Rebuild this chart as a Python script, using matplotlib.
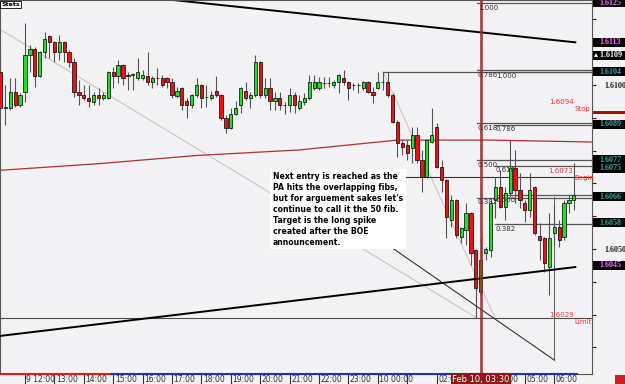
import numpy as np
import matplotlib
matplotlib.use("Agg")
from matplotlib import pyplot as plt
from matplotlib.patches import Rectangle
import matplotlib.transforms as mtransforms

# 10 minute candles, GBP/USD, 9 Feb 11:10 -> 10 Feb 06:40
opens = [1.61040, 1.60930, 1.60930, 1.60979, 1.60939, 1.60979, 1.61091, 1.61110, 1.61027, 1.61101,
         1.61149, 1.61131, 1.61101, 1.61131, 1.61101, 1.61070, 1.60979, 1.60970, 1.60960, 1.60948,
         1.60970, 1.60960, 1.60960, 1.61040, 1.61027, 1.61061, 1.61030, 1.61030, 1.61021, 1.61021,
         1.61027, 1.61009, 1.61021, 1.61021, 1.61021, 1.61009, 1.60966, 1.60991, 1.60951, 1.60939,
         1.60970, 1.61000, 1.60963, 1.60960, 1.60982, 1.60970, 1.60900, 1.60869, 1.60912, 1.60939,
         1.60982, 1.60960, 1.60970, 1.61070, 1.60970, 1.60991, 1.60951, 1.60960, 1.60939, 1.60939,
         1.60970, 1.60930, 1.60948, 1.60960, 1.60991, 1.60991, 1.61006, 1.61006, 1.61000, 1.61009,
         1.61021, 1.61009, 1.61000, 1.61000, 1.60991, 1.61009, 1.60979, 1.60991, 1.61009, 1.61009,
         1.60970, 1.60887, 1.60823, 1.60817, 1.60808, 1.60848, 1.60771, 1.60720, 1.60826, 1.60872,
         1.60750, 1.60710, 1.60588, 1.60649, 1.60537, 1.60558, 1.60610, 1.60497, 1.60369, 1.60488,
         1.60497, 1.60649, 1.60689, 1.60628, 1.60671, 1.60747, 1.60680, 1.60640, 1.60619, 1.60689,
         1.60540, 1.60534, 1.60445, 1.60549, 1.60567, 1.60537, 1.60640, 1.60649]
highs = [1.61091, 1.61000, 1.61021, 1.61021, 1.60976, 1.61189, 1.61122, 1.61116, 1.61104, 1.61162,
         1.61152, 1.61134, 1.61152, 1.61134, 1.61107, 1.61082, 1.61015, 1.61000, 1.61000, 1.60979,
         1.60991, 1.60979, 1.61043, 1.61055, 1.61076, 1.61064, 1.61040, 1.61035, 1.61082, 1.61046,
         1.61101, 1.61027, 1.61052, 1.61030, 1.61024, 1.61021, 1.60994, 1.60994, 1.60960, 1.60973,
         1.61021, 1.61003, 1.61000, 1.60982, 1.61027, 1.60973, 1.60909, 1.60930, 1.60951, 1.60994,
         1.61009, 1.60979, 1.61091, 1.61073, 1.61021, 1.61021, 1.60979, 1.60979, 1.60948, 1.60991,
         1.60979, 1.60970, 1.60976, 1.61030, 1.61030, 1.61024, 1.61024, 1.61024, 1.61015, 1.61033,
         1.61046, 1.61012, 1.61006, 1.61006, 1.61012, 1.61012, 1.60994, 1.61040, 1.61040, 1.61040,
         1.60976, 1.60893, 1.60832, 1.60832, 1.60872, 1.60872, 1.60802, 1.60835, 1.60930, 1.60884,
         1.60771, 1.60713, 1.60665, 1.60652, 1.60567, 1.60640, 1.60613, 1.60500, 1.60537, 1.60506,
         1.60649, 1.60720, 1.60741, 1.60689, 1.60832, 1.60802, 1.60732, 1.60649, 1.60732, 1.60692,
         1.60579, 1.60537, 1.60610, 1.60634, 1.60588, 1.60649, 1.60665, 1.60762]
lows = [1.60909, 1.60878, 1.60924, 1.60933, 1.60933, 1.60948, 1.61040, 1.60994, 1.61024, 1.61082,
        1.61082, 1.61070, 1.61076, 1.61070, 1.61055, 1.60963, 1.60939, 1.60954, 1.60933, 1.60939,
        1.60939, 1.60954, 1.60957, 1.60991, 1.61006, 1.61000, 1.60985, 1.60985, 1.61015, 1.61015,
        1.61000, 1.60991, 1.61000, 1.60994, 1.60991, 1.60960, 1.60960, 1.60924, 1.60900, 1.60930,
        1.60963, 1.60930, 1.60933, 1.60954, 1.60963, 1.60893, 1.60854, 1.60866, 1.60909, 1.60915,
        1.60954, 1.60930, 1.60963, 1.60960, 1.60960, 1.60924, 1.60924, 1.60924, 1.60912, 1.60918,
        1.60915, 1.60924, 1.60939, 1.60954, 1.60985, 1.60985, 1.60991, 1.60994, 1.60991, 1.60976,
        1.61000, 1.60954, 1.60985, 1.60976, 1.60985, 1.60976, 1.60945, 1.60988, 1.60985, 1.60963,
        1.60884, 1.60780, 1.60787, 1.60771, 1.60762, 1.60762, 1.60674, 1.60717, 1.60823, 1.60747,
        1.60674, 1.60534, 1.60567, 1.60534, 1.60518, 1.60512, 1.60451, 1.60345, 1.60360, 1.60466,
        1.60476, 1.60595, 1.60625, 1.60588, 1.60659, 1.60640, 1.60625, 1.60582, 1.60598, 1.60543,
        1.60466, 1.60430, 1.60360, 1.60512, 1.60506, 1.60527, 1.60610, 1.60619]
closes = [1.60930, 1.60933, 1.60979, 1.60939, 1.60970, 1.61091, 1.61110, 1.61027, 1.61101, 1.61140,
          1.61131, 1.61101, 1.61131, 1.61101, 1.61070, 1.60979, 1.60970, 1.60960, 1.60951, 1.60970,
          1.60960, 1.60970, 1.61040, 1.61027, 1.61061, 1.61021, 1.61028, 1.61032, 1.61040, 1.61030,
          1.61009, 1.61021, 1.61020, 1.61000, 1.61009, 1.60970, 1.60982, 1.60939, 1.60939, 1.60970,
          1.61000, 1.60960, 1.60962, 1.60970, 1.60970, 1.60900, 1.60869, 1.60912, 1.60930, 1.60991,
          1.60960, 1.60970, 1.61070, 1.60970, 1.60991, 1.60951, 1.60960, 1.60939, 1.60940, 1.60970,
          1.60939, 1.60951, 1.60960, 1.61009, 1.61009, 1.61009, 1.61005, 1.61007, 1.61009, 1.61030,
          1.61009, 1.60991, 1.61001, 1.60999, 1.61009, 1.60979, 1.60970, 1.61009, 1.61008, 1.60970,
          1.60887, 1.60823, 1.60811, 1.60793, 1.60848, 1.60771, 1.60720, 1.60832, 1.60848, 1.60750,
          1.60710, 1.60598, 1.60649, 1.60543, 1.60564, 1.60610, 1.60488, 1.60381, 1.60466, 1.60500,
          1.60640, 1.60689, 1.60628, 1.60671, 1.60747, 1.60680, 1.60649, 1.60619, 1.60680, 1.60549,
          1.60527, 1.60457, 1.60534, 1.60567, 1.60527, 1.60640, 1.60649, 1.60664]

# moving average, read at a few candles
ma_idx = [0, 20, 40, 61, 81, 100, 121]
ma_val = [1.60740, 1.60760, 1.60785, 1.60802, 1.60832, 1.60832, 1.60826]

hour_labels = ["9 12:00", "13:00", "14:00", "15:00", "16:00", "17:00", "18:00", "19:00",
               "20:00", "21:00", "22:00", "23:00", "10 00:00", "", "02:00", "", "04:00",
               "05:00", "06:00"]

fib_ratios = [1.0, 0.786, 0.618, 0.5, 0.382]
fib_a = (1.6125, 1.6029)   # high, low
fib_b = (1.6104, 1.6029)

# right-hand price boxes: (label, centre price, text colour)
price_boxes = [("1.6125", 1.6125, "#ff66ff"), ("1.6113", 1.6113, "#ff66ff"),
               ("\u25b4 1.6109", 1.6109, "white"), ("1.6104", 1.6104, "#3aa6a6"),
               ("1.6089", 1.6088, "#3aa6a6"), ("1.6077\n1.6075", 1.6076, "#3aa6a6"),
               ("1.6066", 1.6066, "#3aa6a6"), ("1.6058", 1.6058, "#3aa6a6"),
               ("1.6045", 1.6045, "#ff66ff")]

fig = plt.figure(figsize=(6.25, 3.84), dpi=100)
fig.patch.set_facecolor("#f3f2f4")
ax = fig.add_axes([0, 10 / 384, 592 / 625, 374 / 384])
ax.set_facecolor("#f3f2f4")
ax.set_xlim(-0.1, 120.7)
ax.set_ylim(1.60119, 1.61259)

n = len(opens)
idx = np.arange(n)

# trend lines and helper lines
ax.plot([34.6, 117.3], [1.6126, 1.6113], color="black", lw=1.4, zorder=2)
ax.plot([-0.1, 117.3], [1.60235, 1.60445], color="black", lw=1.4, zorder=4)
ax.plot([-9, 97.2], [fib_a[0], fib_a[1]], color="#c8c8c8", lw=0.8, zorder=1)
ax.plot([78.1, 100.9], [fib_b[0], fib_b[1]], color="#c8c8c8", lw=0.8, zorder=1)
ax.plot(ma_idx, ma_val, color="#b03030", lw=0.9, zorder=1)

# limit / begin lines
ax.axhline(1.6029, color="#44524a", lw=0.8, zorder=1)
ax.plot([81.5, 120.7], [1.6072, 1.6072], color="#333333", lw=0.8, zorder=1)
ax.plot([78.1, 120.7], [1.6104, 1.6104], color="#555555", lw=0.9, zorder=1)

# fibonacci levels
for (hi, lo), x0 in [(fib_a, 97.2), (fib_b, 100.9)]:
    for r in fib_ratios:
        lvl = lo + (hi - lo) * r
        ax.plot([x0, 120.7], [lvl, lvl], color="#555555", lw=0.9, zorder=1)
        ax.text(x0 + 0.2, lvl - 0.00005, "%.3f" % r, fontsize=5, color="#333333",
                va="top", ha="left", zorder=6)

# candles
for i in idx:
    up = closes[i] >= opens[i]
    ax.vlines(i, lows[i], highs[i], color="#555555", lw=0.8, zorder=3)
    bottom = min(opens[i], closes[i])
    h = max(abs(closes[i] - opens[i]), 0.000012)
    ax.add_patch(Rectangle((i - 0.33, bottom), 0.66, h, facecolor="#22dd22" if up else "#ee1111",
                           edgecolor="black", lw=0.5, zorder=3))

# vertical markers
ax.axvline(98, color="#9a2a2a", lw=2, alpha=0.85, zorder=5)
ax.plot([97.0, 97.0], [1.6029, 1.60451], color="#555555", lw=0.8, zorder=2)
ax.plot([112.96, 112.96], [1.60659, 1.60162], color="#666666", lw=0.8, zorder=2)
ax.plot([75.8, 112.96], [1.60546, 1.60162], color="#333333", lw=0.8, zorder=2)

# red labels
for price, word, y in [("1.6094", "Stop", 1.6094), ("1.6073", "Begin", 1.6073), ("1.6029", "Limit", 1.6029)]:
    ax.text(116.9, y, price, fontsize=5, color="#ff3030", ha="right", va="bottom", zorder=6)
    ax.text(117.2, y - 0.00004, word, fontsize=5, color="#ff3030", ha="left", va="top", zorder=6)

# comment box
ax.text(55.6, 1.60735, "Next entry is reached as the\nPA hits the overlapping fibs,\n"
        "but for arguement sakes let's\ncontinue to call it the 50 fib.\n"
        "Target is the long spike\ncreated after the BOE\nannouncement.",
        fontsize=5.6, fontweight="bold", color="black", va="top", ha="left", linespacing=1.28,
        bbox=dict(facecolor="white", edgecolor="none", pad=1.8), zorder=7)

# axes styling
for s in ["left", "top", "right", "bottom"]:
    ax.spines[s].set_color("#555555")
    ax.spines[s].set_linewidth(0.8)
ax.yaxis.tick_right()
yt = np.round(np.arange(1.6020, 1.6130, 0.001), 4)
ax.set_yticks(yt)
ax.set_yticklabels(["%.4f" % v if v in (1.6100, 1.6050) else "" for v in yt],
                   fontsize=5.8, fontweight="bold", family="Liberation Serif")
ax.tick_params(axis="y", direction="out", length=3, pad=6, colors="#222222")

xt = [5 + 6 * k for k in range(len(hour_labels))]
ax.set_xticks(xt)
ax.set_xticklabels(hour_labels, fontsize=5.5, color="#222222", ha="left")
ax.tick_params(axis="x", direction="out", length=10, pad=-9, colors="#333333")
offset = mtransforms.ScaledTranslation(1.5 / 100, 0, fig.dpi_scale_trans)
for lab in ax.get_xticklabels():
    lab.set_transform(lab.get_transform() + offset)

# price boxes on the right axis, full width of the label strip
ytr = ax.get_yaxis_transform()
one_px = 0.001 / 32.8
for lab, price, col in price_boxes:
    nlines = lab.count("\n") + 1
    hgt = (9 * nlines) * one_px
    ax.add_patch(Rectangle((1.0015, price - hgt / 2), 0.06, hgt, transform=ytr,
                           facecolor="black", edgecolor="none", clip_on=False, zorder=8))
    x_txt = 1.0 + (2 if lab.startswith("\u25b4") else 7) / 592
    ax.text(x_txt, price, lab, transform=ytr, fontsize=5.8, fontweight="bold",
            family=["Liberation Serif", "DejaVu Sans"], color=col, va="center", ha="left",
            linespacing=0.95, clip_on=False, zorder=9)
ax.add_patch(Rectangle((1.0015, 1.60910), 0.06, 3 * one_px, transform=ytr,
                       facecolor="#a01010", edgecolor="none", clip_on=False, zorder=8))

# bottom range bar and time marker
ax.plot([0, 111 / 592], [0, 0], color="#cc2222", lw=1.5, transform=ax.transAxes, clip_on=False, zorder=9)
ax.plot([112 / 592, 577 / 592], [0, 0], color="#2233aa", lw=1.5, transform=ax.transAxes, clip_on=False, zorder=9)
ax.text(98, 1.60119 - 0.00003, "Feb 10, 03:30", fontsize=6, color="white", ha="center", va="top",
        bbox=dict(facecolor="#8b1a1a", edgecolor="none", pad=1), clip_on=False, zorder=9)

# corner widgets
ax.text(0.002, 0.995, "Stets", transform=ax.transAxes, fontsize=4.5, fontweight="bold",
        va="top", ha="left", bbox=dict(facecolor="white", edgecolor="black", pad=0.8, lw=0.6), zorder=9)
fig.patches.append(Rectangle((615 / 625, 0), 10 / 625, 9 / 384, transform=fig.transFigure,
                             facecolor="#cc2222", edgecolor="none"))

fig.savefig("out.png", dpi=100, facecolor=fig.get_facecolor())
